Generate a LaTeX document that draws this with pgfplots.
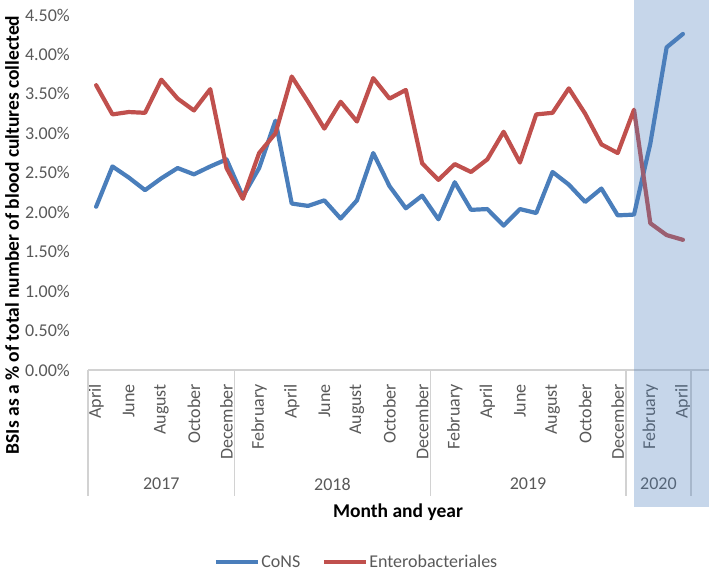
\documentclass[border=0pt]{standalone}
\usepackage{pgfplots}
\pgfplotsset{compat=1.18}
\usepackage{pgfplotstable}
\usepackage{fontspec}
\setmainfont{Carlito}
\definecolor{consblue}{RGB}{74,126,187}
\definecolor{entred}{RGB}{192,80,77}
\definecolor{shadecol}{RGB}{79,129,189}
\definecolor{ticktext}{RGB}{89,89,89}
\definecolor{axgray}{RGB}{210,210,210}

\pgfplotstableread{
idx cons ent
0 2.07 3.61
1 2.58 3.24
2 2.44 3.27
3 2.28 3.26
4 2.43 3.68
5 2.56 3.44
6 2.48 3.29
7 2.58 3.56
8 2.67 2.56
9 2.20 2.17
10 2.56 2.75
11 3.16 3.00
12 2.11 3.72
13 2.08 3.40
14 2.15 3.06
15 1.92 3.40
16 2.15 3.15
17 2.75 3.70
18 2.33 3.44
19 2.05 3.55
20 2.21 2.62
21 1.91 2.41
22 2.38 2.61
23 2.03 2.51
24 2.04 2.67
25 1.83 3.02
26 2.04 2.63
27 1.99 3.24
28 2.51 3.26
29 2.35 3.57
30 2.13 3.25
31 2.30 2.86
32 1.96 2.75
33 1.97 3.30
34 2.87 1.86
35 4.09 1.71
36 4.26 1.65
}\datatable

\begin{document}
\begin{tikzpicture}
\useasboundingbox (0,0) rectangle (709bp,572bp);
\begin{axis}[
  at={(88bp,202bp)}, anchor=south west,
  width=621bp, height=355bp, scale only axis,
  xmin=-0.5, xmax=37.6, ymin=0, ymax=4.5,
  clip=false,
  axis line style={draw=none},
  major tick length=0pt,
  xtick={0,2,4,6,8,10,12,14,16,18,20,22,24,26,28,30,32,34,36},
  xticklabels={April,June,August,October,December,February,April,June,August,October,December,February,April,June,August,October,December,February,April},
  ytick={0,0.5,1,1.5,2,2.5,3,3.5,4,4.5},
  /pgf/number format/.cd, fixed, fixed zerofill, precision=2, assume math mode=true, /pgfplots/.cd,
  yticklabel={\pgfmathprintnumber{\tick}\%},
  ticklabel style={font=\fontsize{18bp}{20bp}\selectfont, text=ticktext},
  xticklabel style={anchor=east, rotate=90, inner xsep=14bp, inner ysep=0pt},
  yticklabel style={anchor=east, inner sep=0pt},
  yticklabel shift=18bp,
  legend columns=2,
  legend style={at={(axis description cs:0.432,-0.541)}, anchor=center, draw=none, fill=none,
    font=\fontsize{18bp}{20bp}\selectfont, text=ticktext,
    /tikz/every even column/.append style={column sep=20bp}, inner sep=0pt,
    nodes={inner sep=1.5bp}},
  legend image code/.code={\draw[#1, line width=4bp, line cap=butt] (0bp,0bp) -- (42bp,0bp);},
]
\addplot[consblue, line width=4.2bp, line join=round, line cap=round] table[x=idx, y=cons] {\datatable};
\addlegendentry{CoNS}
\addplot[entred, line width=4.2bp, line join=round, line cap=round] table[x=idx, y=ent] {\datatable};
\addlegendentry{Enterobacteriales}
\draw[axgray, line width=1.3bp] (axis cs:-0.5,0) -- (axis cs:37.6,0);
\pgfplotsinvokeforeach{-0.5,8.5,20.5,32.5,36.5}{
  \draw[axgray, line width=1.3bp] (axis cs:#1,0) -- ([yshift=-126bp]axis cs:#1,0);
}
\node[font=\fontsize{18bp}{20bp}\selectfont, text=ticktext] at ([yshift=-114bp]axis cs:4,0) {2017};
\node[font=\fontsize{18bp}{20bp}\selectfont, text=ticktext] at ([yshift=-114bp]axis cs:14.5,0) {2018};
\node[font=\fontsize{18bp}{20bp}\selectfont, text=ticktext] at ([yshift=-114bp]axis cs:26.5,0) {2019};
\node[font=\fontsize{18bp}{20bp}\selectfont, text=ticktext] at ([yshift=-114bp]axis cs:34.5,0) {2020};
\fill[shadecol, opacity=0.32] ([yshift=-137.3bp]axis cs:33,0) rectangle ([yshift=15bp]axis cs:37.6,4.5);
\end{axis}
\node[rotate=90, font=\bfseries\fontsize{19.5bp}{22bp}\selectfont] at (12bp,337bp) {BSIs as a \% of total number of blood cultures collected};
\node[font=\bfseries\fontsize{19.5bp}{22bp}\selectfont] at (398bp,60bp) {Month and year};
\end{tikzpicture}
\end{document}
